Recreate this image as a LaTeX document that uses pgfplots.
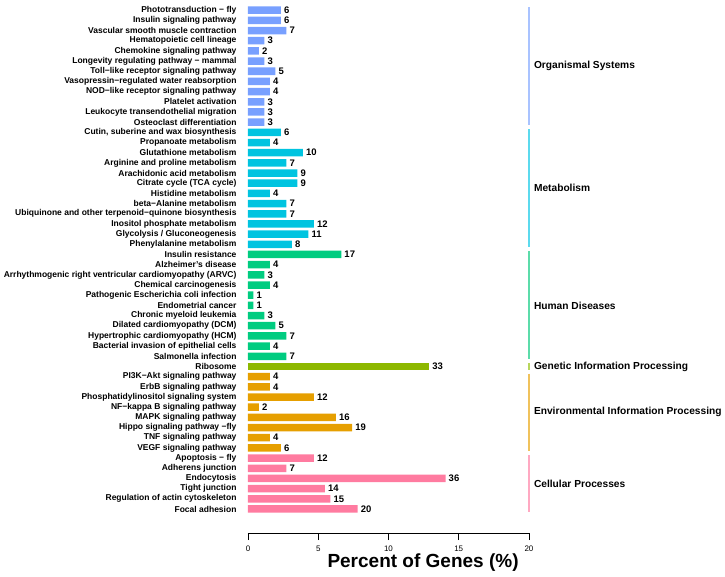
\documentclass[border=0pt]{standalone}
\usepackage{fontspec}
\setmainfont{Liberation Sans}
\usepackage{pgfplots}
\pgfplotsset{compat=1.18}
\definecolor{cOS}{HTML}{78A0FF}
\definecolor{cOSl}{HTML}{A9C3FF}
\definecolor{cME}{HTML}{00C4E0}
\definecolor{cMEl}{HTML}{5CDAEE}
\definecolor{cHD}{HTML}{00CC80}
\definecolor{cHDl}{HTML}{5CDCAA}
\definecolor{cGI}{HTML}{8DB800}
\definecolor{cGIl}{HTML}{B8D65C}
\definecolor{cEI}{HTML}{E69F00}
\definecolor{cEIl}{HTML}{F0C25C}
\definecolor{cCP}{HTML}{FF7BA0}
\definecolor{cCPl}{HTML}{FFA9C2}
\begin{document}
\begin{tikzpicture}
\begin{axis}[
  at={(0,0)}, anchor=south west,
  scale only axis, width=281pt, height=533pt,
  xmin=0, xmax=20, ymin=-1.36, ymax=51,
  axis x line*=bottom, axis y line*=left,
  y axis line style={draw=none},
  x axis line style={line width=0.6pt},
  xtick={0,5,10,15,20}, tick align=outside, major tick length=7pt,
  x tick style={line width=0.6pt, black},
  x tick label style={font=\fontsize{8}{9}\selectfont, yshift=-2pt},
  /pgf/number format/assume math mode=true,
  ytick={1,...,50},
  yticklabels={Focal adhesion, Regulation of actin cytoskeleton, Tight junction, Endocytosis, Adherens junction, Apoptosis − fly, VEGF signaling pathway, TNF signaling pathway, Hippo signaling pathway −fly, MAPK signaling pathway, NF−kappa B signaling pathway, Phosphatidylinositol signaling system, ErbB signaling pathway, PI3K−Akt signaling pathway, Ribosome, Salmonella infection, Bacterial invasion of epithelial cells, Hypertrophic cardiomyopathy (HCM), Dilated cardiomyopathy (DCM), Chronic myeloid leukemia, Endometrial cancer, Pathogenic Escherichia coli infection, Chemical carcinogenesis, Arrhythmogenic right ventricular cardiomyopathy (ARVC), Alzheimer's disease, Insulin resistance, Phenylalanine metabolism, Glycolysis / Gluconeogenesis, Inositol phosphate metabolism, Ubiquinone and other terpenoid−quinone biosynthesis, beta−Alanine metabolism, Histidine metabolism, Citrate cycle (TCA cycle), Arachidonic acid metabolism, Arginine and proline metabolism, Glutathione metabolism, Propanoate metabolism, {Cutin, suberine and wax biosynthesis}, Osteoclast differentiation, Leukocyte transendothelial migration, Platelet activation, NOD−like receptor signaling pathway, Vasopressin−regulated water reabsorption, Toll−like receptor signaling pathway, Longevity regulating pathway − mammal, Chemokine signaling pathway, Hematopoietic cell lineage, Vascular smooth muscle contraction, Insulin signaling pathway, Phototransduction − fly},
  y tick style={draw=none},
  yticklabel style={font=\bfseries\fontsize{8.5}{10}\selectfont, xshift=-1pt},
  clip=false,
  xlabel={Percent of Genes (\%)},
  xlabel style={font=\bfseries\fontsize{19}{22}\selectfont, at={(axis description cs:0.623,0)}, anchor=center, yshift=-30pt},
  bars/.style={xbar, bar width=7.5pt, bar shift=0pt, draw=none, fill=#1,
    point meta=explicit symbolic, nodes near coords, nodes near coords align={horizontal},
    every node near coord/.append style={anchor=west, font=\bfseries\fontsize{9.5}{11}\selectfont, text=black, inner sep=3pt}},
  grp/.style={#1, line width=2pt, forget plot},
]
% Organismal Systems
\addplot[bars=cOS] coordinates {(2.34,50) [6] (2.34,49) [6] (2.73,48) [7] (1.17,47) [3] (0.78,46) [2] (1.17,45) [3] (1.95,44) [5] (1.56,43) [4] (1.56,42) [4] (1.17,41) [3] (1.17,40) [3] (1.17,39) [3]};
% Metabolism
\addplot[bars=cME] coordinates {(2.34,38) [6] (1.56,37) [4] (3.91,36) [10] (2.73,35) [7] (3.52,34) [9] (3.52,33) [9] (1.56,32) [4] (2.73,31) [7] (2.73,30) [7] (4.69,29) [12] (4.30,28) [11] (3.13,27) [8]};
% Human Diseases
\addplot[bars=cHD] coordinates {(6.64,26) [17] (1.56,25) [4] (1.17,24) [3] (1.56,23) [4] (0.39,22) [1] (0.39,21) [1] (1.17,20) [3] (1.95,19) [5] (2.73,18) [7] (1.56,17) [4] (2.73,16) [7]};
% Genetic Information Processing
\addplot[bars=cGI] coordinates {(12.89,15) [33]};
% Environmental Information Processing
\addplot[bars=cEI] coordinates {(1.56,14) [4] (1.56,13) [4] (4.69,12) [12] (0.78,11) [2] (6.25,10) [16] (7.42,9) [19] (1.56,8) [4] (2.34,7) [6]};
% Cellular Processes
\addplot[bars=cCP] coordinates {(4.69,6) [12] (2.73,5) [7] (14.06,4) [36] (5.47,3) [14] (5.86,2) [15] (7.81,1) [20]};
% group lines
\addplot[grp=cOSl] coordinates {(20,50.3) (20,38.7)};
\addplot[grp=cMEl] coordinates {(20,38.3) (20,26.7)};
\addplot[grp=cHDl] coordinates {(20,26.3) (20,15.7)};
\addplot[grp=cGIl] coordinates {(20,15.3) (20,14.7)};
\addplot[grp=cEIl] coordinates {(20,14.3) (20,6.7)};
\addplot[grp=cCPl] coordinates {(20,6.3) (20,0.7)};
\begin{scope}[every node/.style={anchor=west, font=\bfseries\fontsize{10.2}{12}\selectfont, xshift=1.5pt}]
\node at (axis cs:20,44.5) {Organismal Systems};
\node at (axis cs:20,32.5) {Metabolism};
\node at (axis cs:20,21) {Human Diseases};
\node at (axis cs:20,15) {Genetic Information Processing};
\node at (axis cs:20,10.5) {Environmental Information Processing};
\node at (axis cs:20,3.5) {Cellular Processes};
\end{scope}
\end{axis}
\pgfresetboundingbox
\path (-248pt,-43pt) rectangle (477pt,533pt);
\end{tikzpicture}
\end{document}
